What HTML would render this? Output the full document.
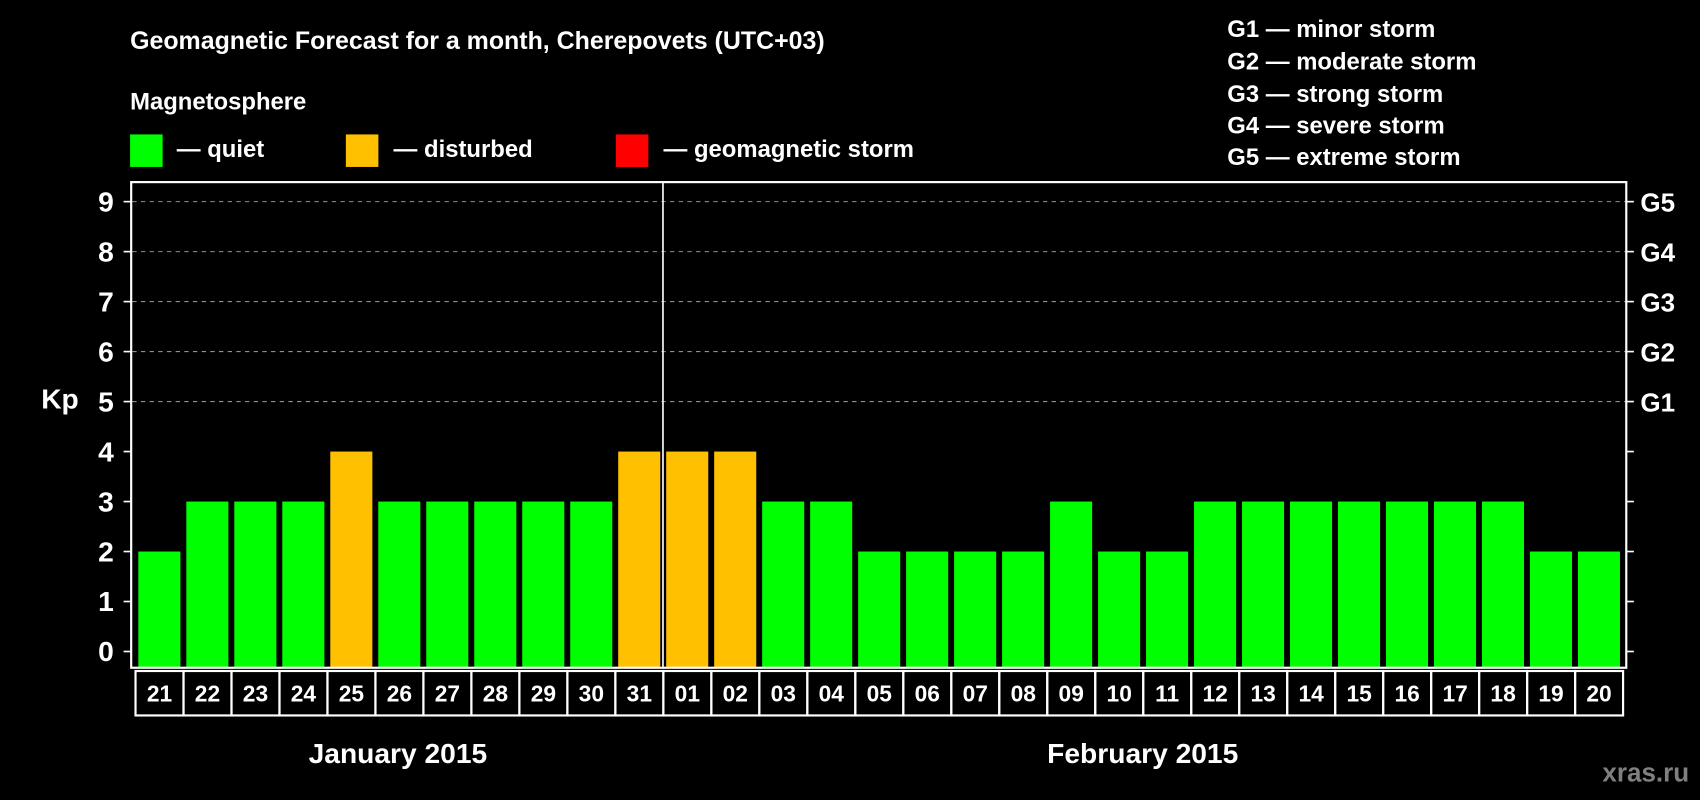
<!DOCTYPE html>
<html><head><meta charset="utf-8"><style>
html,body{margin:0;padding:0;background:#000;width:1700px;height:800px;overflow:hidden}
svg{display:block}
text{font-family:"Liberation Sans",Arial,sans-serif;font-weight:bold;fill:#fff}
</style></head><body>
<svg id="chart" width="1700" height="800" viewBox="0 0 1568 738" preserveAspectRatio="none" xmlns="http://www.w3.org/2000/svg">
<rect x="0" y="0" width="1568" height="738" fill="#000"/>
<text x="120" y="45" font-size="23">Geomagnetic Forecast for a month, Cherepovets (UTC+03)</text>
<text x="120" y="101" font-size="22">Magnetosphere</text>
<rect x="120" y="124" width="30" height="30" fill="#00ff00"/>
<text x="163" y="145" font-size="22">— quiet</text>
<rect x="319" y="124" width="30" height="30" fill="#ffc000"/>
<text x="363" y="145" font-size="22">— disturbed</text>
<rect x="568" y="124" width="30" height="30" fill="#ff0000"/>
<text x="612" y="145" font-size="22">— geomagnetic storm</text>
<g font-size="22">
<text x="1132" y="34">G1 — minor storm</text>
<text x="1132" y="64">G2 — moderate storm</text>
<text x="1132" y="94">G3 — strong storm</text>
<text x="1132" y="123">G4 — severe storm</text>
<text x="1132" y="152">G5 — extreme storm</text>
</g>
<text x="38" y="377" font-size="26">Kp</text>
<g id="grid"></g>
<g id="bars"></g>
<rect x="121" y="168" width="1379" height="448" fill="none" stroke="#fff" stroke-width="2"/>
<line x1="611.5" y1="168" x2="611.5" y2="616" stroke="#fff" stroke-width="1.5"/>
<g id="dates"></g>
<text x="367" y="704" font-size="26" text-anchor="middle">January 2015</text>
<text x="1054" y="704" font-size="26" text-anchor="middle">February 2015</text>
<text x="1558" y="721" font-size="24" text-anchor="end" style="fill:#808080">xras.ru</text>
</svg>
<script>
const days = ["21","22","23","24","25","26","27","28","29","30","31","01","02","03","04","05","06","07","08","09","10","11","12","13","14","15","16","17","18","19","20"];
const kpValues = [2,3,3,3,4,3,3,3,3,3,4,4,4,3,3,2,2,2,2,3,2,2,3,3,3,3,3,3,3,2,2];
const yTicks = [0,1,2,3,4,5,6,7,8,9];
const gLabels = [[5,"G1"],[6,"G2"],[7,"G3"],[8,"G4"],[9,"G5"]];
const NS="http://www.w3.org/2000/svg";
const y = v => 601 - v*46.11;
const xStart = i => 127.6 + i*44.26;
const color = v => v>=5 ? "#ff0000" : (v>=4 ? "#ffc000" : "#00ff00");
function mk(tag, attrs, parent){const e=document.createElementNS(NS,tag);for(const k in attrs)e.setAttribute(k,attrs[k]);parent.appendChild(e);return e;}
const grid=document.getElementById("grid"), bars=document.getElementById("bars"), dates=document.getElementById("dates");
yTicks.forEach(t=>{
  const yy=y(t);
  if(t>=5){const l=mk("line",{x1:122,x2:1499,y1:yy,y2:yy,stroke:"#909090","stroke-width":1,"stroke-dasharray":"4 4"},grid);
  
  }
  mk("line",{x1:114,x2:121,y1:yy,y2:yy,stroke:"#fff","stroke-width":1.5},grid);
  mk("line",{x1:1500,x2:1507,y1:yy,y2:yy,stroke:"#fff","stroke-width":1.5},grid);
  const tx=mk("text",{x:105,y:yy+9,"font-size":26,"text-anchor":"end"},grid);
  tx.textContent=t;
  
  
});
gLabels.forEach(g=>{
  const tx=mk("text",{x:1513,y:y(g[0])+9,"font-size":24},grid);
  tx.textContent=g[1];
  
  
});
kpValues.forEach((v,i)=>{
  const r=mk("rect",{x:xStart(i),y:y(v),width:38.8,height:616-y(v),fill:color(v)},bars);
  
  
  const cx=125+i*44.26;
  const c=mk("rect",{x:cx,y:619,width:44.26,height:41,fill:"none",stroke:"#fff","stroke-width":2},dates);
  
  
  const t=mk("text",{x:cx+22.1,y:647,"font-size":21,"text-anchor":"middle"},dates);
  t.textContent=days[i];
  
  
});
</script>
</body></html>
